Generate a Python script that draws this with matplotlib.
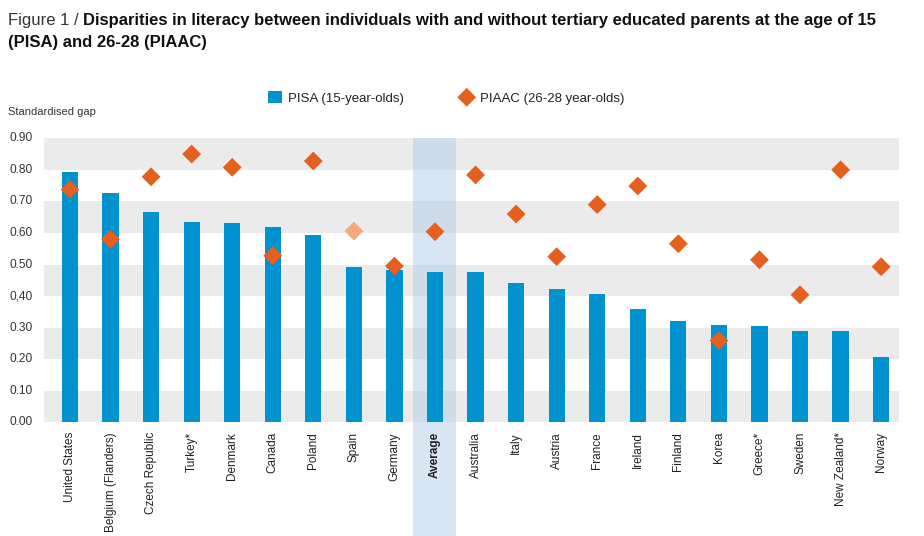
import matplotlib
matplotlib.use("Agg")
import matplotlib.pyplot as plt
from matplotlib.patches import Rectangle

# data
countries = ["United States", "Belgium (Flanders)", "Czech Republic", "Turkey*", "Denmark",
             "Canada", "Poland", "Spain", "Germany", "Average", "Australia", "Italy",
             "Austria", "France", "Ireland", "Finland", "Korea", "Greece*", "Sweden",
             "New Zealand*", "Norway"]
pisa = [0.794, 0.728, 0.666, 0.636, 0.631, 0.620, 0.595, 0.493, 0.483, 0.476, 0.476,
        0.441, 0.421, 0.406, 0.360, 0.320, 0.309, 0.304, 0.288, 0.288, 0.207]
piaac = [0.738, 0.580, 0.778, 0.850, 0.808, 0.528, 0.828, 0.606, 0.495, 0.604, 0.784,
         0.660, 0.525, 0.690, 0.749, 0.566, 0.259, 0.515, 0.404, 0.800, 0.493]
ytick_vals = [0.0, 0.1, 0.2, 0.3, 0.4, 0.5, 0.6, 0.7, 0.8, 0.9]
ytick_labels = ["0.00", "0.10", "0.20", "0.30", "0,40", "0.50", "0.60", "0.70", "0.80", "0.90"]

blue = "#0093d0"
orange = "#e5601e"
light_orange = "#f2a97c"
font = ["Liberation Sans", "DejaVu Sans"]
plt.rcParams["font.family"] = font

W, H = 924, 536
fig = plt.figure(figsize=(W / 100, H / 100), dpi=100)
ax = fig.add_axes([44 / W, 1 - 422.3 / H, (899 - 44) / W, (422.3 - 138.3) / H])

x = list(range(len(countries)))
avg_i = countries.index("Average")

# grey bands
for i in range(0, 9, 2):
    ax.axhspan(ytick_vals[i], ytick_vals[i] + 0.1, color="#ebebeb", zorder=0, lw=0)

# average highlight, runs down behind the labels
hl = Rectangle((avg_i - 0.53, -0.6), 1.06, 1.6, transform=ax.get_xaxis_transform(),
               color="#b3cfe9", alpha=0.5, lw=0, zorder=1, clip_on=False)
ax.add_patch(hl)

bars = ax.bar(x, pisa, width=0.4, color=blue, zorder=2, label="PISA (15-year-olds)")
cols = [light_orange if c == "Spain" else orange for c in countries]
sc = ax.scatter(x, piaac, marker="D", s=92, c=cols, linewidths=0, zorder=3,
                label="PIAAC (26-28 year-olds)")

ax.set_xlim(-0.64, 20.44)
ax.set_ylim(0, 0.9)
for s in ax.spines.values():
    s.set_visible(False)

ax.set_yticks(ytick_vals)
ax.set_yticklabels(ytick_labels)
ax.set_xticks(x)
ax.set_xticklabels(countries, rotation=90, va="top", ha="center")
ax.tick_params(axis="y", length=0, pad=8, labelsize=8.6, labelcolor="#333333")
ax.tick_params(axis="x", length=0, pad=7, labelsize=8.5, labelcolor="#222222")
for lab in ax.get_xticklabels():
    if lab.get_text() == "Average":
        lab.set_fontweight("bold")
for lab in ax.get_yticklabels():
    lab.set_va("center")

fig.text(8 / W, 1 - 112 / H, "Standardised gap", fontsize=8, color="#333333", va="center")

fig.legend(handles=[bars, sc], loc="center", bbox_to_anchor=(446 / W, 1 - 98 / H),
           ncol=2, frameon=False, fontsize=9.5, handlelength=1.1, handleheight=1.0,
           handletextpad=0.45, columnspacing=4.2, labelcolor="#222222")

# title: light prefix followed by heavier text
t1 = fig.text(8 / W, 1 - 20 / H, "Figure 1 / ", fontsize=12, color="#333333", va="center")
fig.canvas.draw()
bb = t1.get_window_extent()
fig.text(bb.x1 / W, 1 - 20 / H,
         "Disparities in literacy between individuals with and without tertiary educated parents at the age of 15",
         fontsize=12, fontweight="bold", color="#111111", va="center")
fig.text(8 / W, 1 - 42 / H, "(PISA) and 26-28 (PIAAC)", fontsize=12,
         fontweight="bold", color="#111111", va="center")

fig.savefig("out.png", dpi=100)
